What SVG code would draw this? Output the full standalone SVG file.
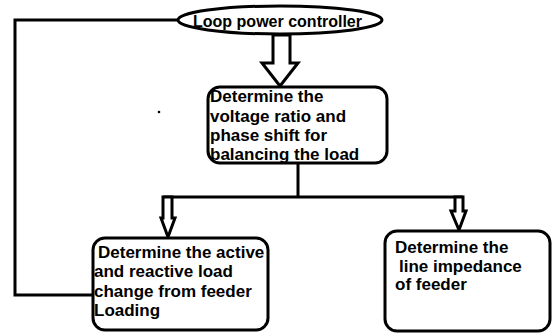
<svg xmlns="http://www.w3.org/2000/svg" width="552" height="334" viewBox="0 0 552 334">
<style>
.shape{fill:#fff;stroke:#000;stroke-width:3}
.line{fill:none;stroke:#000;stroke-width:3}
.t{font-family:"Liberation Sans",Arial,sans-serif;font-size:17px;font-weight:bold;fill:#000}
.e{font-family:"Liberation Sans",Arial,sans-serif;font-size:16px;font-weight:bold;fill:#000}
</style>
<rect width="552" height="334" fill="#fff"/>
<g id="connectors">
<polyline class="line" points="178,20 15,20 15,295 93,295"/>
<line class="line" x1="298" y1="163" x2="298" y2="197"/>
<line class="line" x1="163" y1="197" x2="463" y2="197"/>
<polygon class="shape" points="273,35 290,35 290,63 298,63 280,86 262,63 273,63"/>
<polygon class="shape" points="163,197 172,197 172,218 175,218 168,237 161,218 163,218"/>
<polygon class="shape" points="455,197 463,197 463,211 466,211 459,230 451,211 455,211"/>
</g>
<g id="loop-power-controller">
<ellipse class="shape" cx="280" cy="20" rx="102" ry="14"/>
<text class="e" x="193" y="27" textLength="169" lengthAdjust="spacingAndGlyphs">Loop power controller</text>
</g>
<g id="determine-voltage">
<rect class="shape" x="208" y="87" width="179" height="76" rx="12"/>
<text class="t" x="210" y="102">Determine the</text>
<text class="t" x="210" y="121.5">voltage ratio and</text>
<text class="t" x="210" y="141">phase shift for</text>
<text class="t" x="210" y="160">balancing the load</text>
</g>
<g id="determine-active">
<rect class="shape" x="93" y="238" width="175" height="92" rx="12"/>
<text class="t" x="98" y="258">Determine the active</text>
<text class="t" x="94" y="277">and reactive load</text>
<text class="t" x="94" y="297">change from feeder</text>
<text class="t" x="94" y="316">Loading</text>
</g>
<g id="determine-impedance">
<rect class="shape" x="385" y="231" width="165" height="100" rx="12"/>
<text class="t" x="395" y="253">Determine the</text>
<text class="t" x="399" y="272">line impedance</text>
<text class="t" x="395" y="290">of feeder</text>
</g>
<circle cx="159" cy="112" r="1.3" fill="#000"/>
</svg>
